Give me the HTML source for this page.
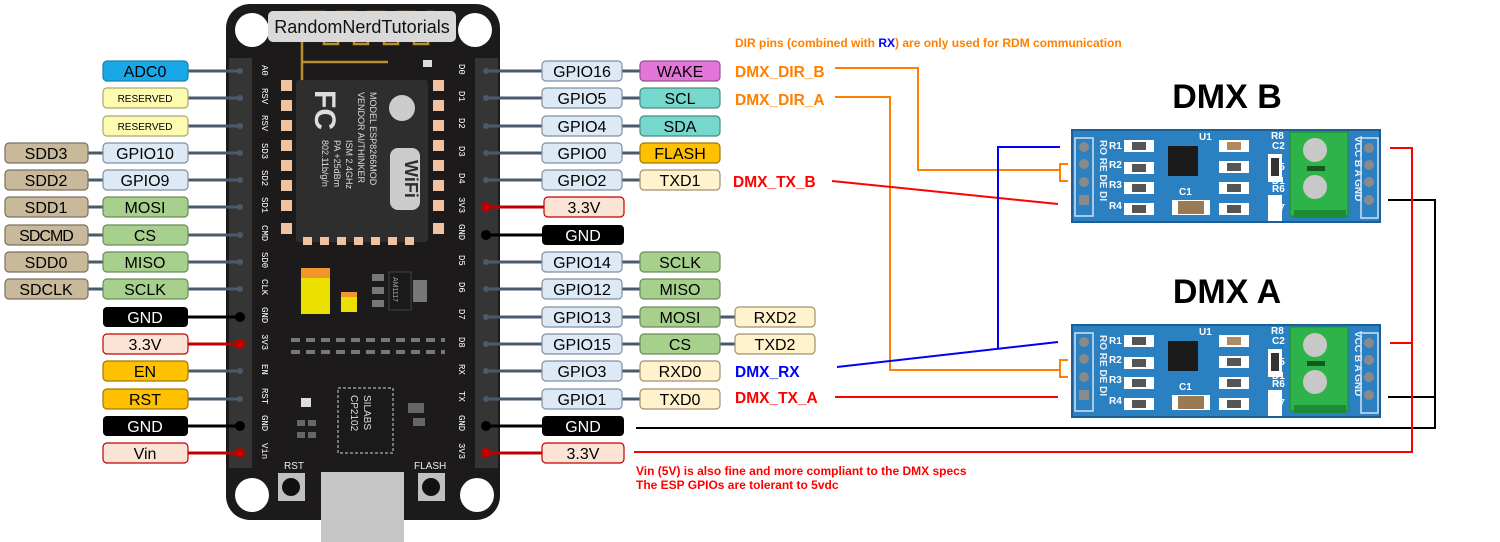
<!DOCTYPE html>
<html><head><meta charset="utf-8"><style>
html,body{margin:0;padding:0;background:#fff;}
svg{display:block;font-family:"Liberation Sans",sans-serif;}
.l text{font-size:16px;text-anchor:middle;}
</style></head><body>
<svg width="1500" height="542" viewBox="0 0 1500 542" xmlns="http://www.w3.org/2000/svg">
<defs>
<g id="mod">
 <rect x="0" y="0" width="308" height="92" fill="#2b80c2" stroke="#1c5f96" stroke-width="2"/>
 <rect x="3" y="8" width="18" height="78" fill="none" stroke="#cfe3f5" stroke-width="1.5"/>
 <circle cx="12" cy="17" r="5" fill="#8a8a8a"/><circle cx="12" cy="34" r="5" fill="#8a8a8a"/>
 <circle cx="12" cy="52" r="5" fill="#8a8a8a"/><rect x="7" y="65" width="10" height="10" fill="#8a8a8a"/>
 <text x="28" y="10" transform="rotate(90 28 10)" font-size="10" font-weight="bold" fill="#e8f0f8">RO RE DE DI</text>
 <g fill="#fff" font-size="10" font-weight="bold">
  <text x="37" y="19">R1</text><text x="37" y="38">R2</text><text x="37" y="58">R3</text><text x="37" y="79">R4</text>
  <text x="200" y="19">C2</text><text x="200" y="40">R5</text><text x="200" y="62">R6</text><text x="200" y="81">R7</text>
  <text x="127" y="10">U1</text><text x="107" y="65">C1</text><text x="199" y="9">R8</text><text x="200" y="54">D1</text>
 </g>
 <g fill="#fff"><rect x="52" y="10" width="30" height="12"/><rect x="52" y="32" width="30" height="12"/><rect x="52" y="52" width="30" height="12"/><rect x="52" y="73" width="30" height="12"/>
 <rect x="147" y="10" width="30" height="12"/><rect x="147" y="31" width="30" height="12"/><rect x="147" y="52" width="30" height="12"/><rect x="147" y="73" width="30" height="12"/></g>
 <g fill="#555"><rect x="60" y="12" width="14" height="8"/><rect x="60" y="34" width="14" height="8"/><rect x="60" y="54" width="14" height="8"/><rect x="60" y="75" width="14" height="8"/>
 <rect x="155" y="12" width="14" height="8" fill="#b08a60"/><rect x="155" y="33" width="14" height="8"/><rect x="155" y="54" width="14" height="8"/><rect x="155" y="75" width="14" height="8"/></g>
 <rect x="96" y="16" width="30" height="30" fill="#1a1a1a"/>
 <rect x="100" y="70" width="38" height="15" fill="#fff"/><rect x="106" y="71" width="26" height="13" fill="#9a7a55"/>
 <rect x="196" y="24" width="14" height="28" fill="#fff"/><rect x="199" y="28" width="8" height="18" fill="#333"/>
 <rect x="196" y="65" width="14" height="26" fill="#fff"/>
 <rect x="218" y="2" width="58" height="84" fill="#2eb34a" stroke="#1d8a35"/>
 <circle cx="243" cy="20" r="12" fill="#c8c8c8"/><circle cx="243" cy="57" r="12" fill="#c8c8c8"/>
 <rect x="235" y="36" width="18" height="5" fill="#14571f"/>
 <rect x="222" y="80" width="52" height="8" fill="#1d8a35"/>
 <text x="283" y="6" transform="rotate(90 283 6)" font-size="10" font-weight="bold" fill="#e8f0f8">VCC B A GND</text>
 <rect x="289" y="8" width="17" height="80" fill="none" stroke="#cfe3f5" stroke-width="1.5"/>
 <circle cx="297" cy="18" r="5" fill="#8a8a8a"/><circle cx="297" cy="35" r="5" fill="#8a8a8a"/><circle cx="297" cy="52" r="5" fill="#8a8a8a"/><circle cx="297" cy="70" r="5" fill="#8a8a8a"/>
</g>
</defs>

<!-- board -->
<rect x="226" y="4" width="274" height="516" rx="24" fill="#1c1a1a"/>
<circle cx="252" cy="30" r="17" fill="#fff"/><circle cx="475" cy="30" r="17" fill="#fff"/>
<circle cx="252" cy="495" r="17" fill="#fff"/><circle cx="477" cy="495" r="17" fill="#fff"/>
<path d="M302 80 V12 h22 v32 h14 v-32 h16 v32 h14 v-32 h16 v32 h14 v-32 h16 v32 h14 v-32 h6 M302 62 H388" fill="none" stroke="#b8902e" stroke-width="2.5"/>
<rect x="268" y="11" width="188" height="31" rx="5" fill="#d9d9d9"/>
<text x="362" y="33" font-size="18" text-anchor="middle" fill="#111">RandomNerdTutorials</text>
<rect x="423" y="60" width="9" height="7" fill="#ddd"/>
<rect x="229" y="58" width="23" height="410" fill="#353535"/>
<rect x="475" y="58" width="23" height="410" fill="#353535"/>
<rect x="296" y="80" width="132" height="162" rx="3" fill="#2e2e2e"/>
<g fill="#f0c2a0">
 <rect x="281" y="80" width="11" height="11"/><rect x="281" y="100" width="11" height="11"/><rect x="281" y="120" width="11" height="11"/><rect x="281" y="140" width="11" height="11"/><rect x="281" y="160" width="11" height="11"/><rect x="281" y="180" width="11" height="11"/><rect x="281" y="200" width="11" height="11"/><rect x="281" y="223" width="11" height="11"/>
 <rect x="433" y="80" width="11" height="11"/><rect x="433" y="100" width="11" height="11"/><rect x="433" y="120" width="11" height="11"/><rect x="433" y="140" width="11" height="11"/><rect x="433" y="160" width="11" height="11"/><rect x="433" y="180" width="11" height="11"/><rect x="433" y="200" width="11" height="11"/><rect x="433" y="223" width="11" height="11"/>
 <rect x="303" y="237" width="9" height="8"/><rect x="320" y="237" width="9" height="8"/><rect x="337" y="237" width="9" height="8"/><rect x="354" y="237" width="9" height="8"/><rect x="371" y="237" width="9" height="8"/><rect x="388" y="237" width="9" height="8"/><rect x="405" y="237" width="9" height="8"/>
</g>
<text x="310" y="125" font-size="30" font-weight="bold" fill="#ddd" transform="rotate(90 330 110)">FC</text>
<circle cx="402" cy="108" r="13" fill="#ccc"/>
<rect x="390" y="148" width="30" height="62" rx="8" fill="#ccc"/>
<text x="405" y="160" transform="rotate(90 405 160)" font-size="18" font-weight="bold" fill="#2e2e2e">WiFi</text>
<g fill="#ddd" font-size="9">
<text x="370" y="92" transform="rotate(90 370 92)">MODEL   ESP8266MOD</text>
<text x="358" y="92" transform="rotate(90 358 92)">VENDOR  AI/THINKER</text>
<text x="346" y="140" transform="rotate(90 346 140)">ISM 2.4GHz</text>
<text x="334" y="140" transform="rotate(90 334 140)">PA +25dBm</text>
<text x="322" y="140" transform="rotate(90 322 140)">802.11b/g/n</text>
</g>
<rect x="301" y="268" width="29" height="46" fill="#ece000"/><rect x="301" y="268" width="29" height="10" fill="#f0962a"/>
<rect x="341" y="292" width="16" height="20" fill="#ece000"/><rect x="341" y="292" width="16" height="5" fill="#f0962a"/>
<rect x="389" y="272" width="22" height="38" fill="#1a1a1a" stroke="#444"/>
<text x="393" y="277" transform="rotate(90 393 277)" font-size="7" fill="#aaa">AM1117</text>
<g fill="#777"><rect x="372" y="274" width="12" height="7"/><rect x="372" y="287" width="12" height="7"/><rect x="372" y="300" width="12" height="7"/><rect x="413" y="280" width="14" height="22"/></g>
<path d="M291 340 H445 M291 352 H445" stroke="#777" stroke-width="4" stroke-dasharray="9,6"/>
<rect x="338" y="388" width="55" height="65" fill="#1a1a1a" stroke="#777" stroke-width="2" stroke-dasharray="3,2"/>
<text x="364" y="395" transform="rotate(90 364 395)" font-size="10" fill="#ddd">SILABS</text>
<text x="351" y="395" transform="rotate(90 351 395)" font-size="10" fill="#ddd">CP2102</text>
<rect x="301" y="398" width="10" height="9" fill="#ddd"/>
<g fill="#666"><rect x="297" y="420" width="8" height="6"/><rect x="308" y="420" width="8" height="6"/><rect x="297" y="432" width="8" height="6"/><rect x="308" y="432" width="8" height="6"/><rect x="408" y="403" width="16" height="10"/><rect x="413" y="418" width="12" height="8"/></g>
<text x="284" y="469" font-size="10" fill="#eee">RST</text><text x="414" y="469" font-size="10" fill="#eee">FLASH</text>
<rect x="278" y="473" width="27" height="28" fill="#c0c0c0"/><circle cx="291" cy="487" r="9" fill="#111"/>
<rect x="418" y="473" width="27" height="28" fill="#c0c0c0"/><circle cx="431" cy="487" r="9" fill="#111"/>
<rect x="321" y="472" width="83" height="70" fill="#c6c6c6"/>
<g fill="#fff" font-size="9" font-family="Liberation Mono,monospace">
<text x="262" y="65" transform="rotate(90 262 65)">A0</text><text x="262" y="88" transform="rotate(90 262 88)">RSV</text><text x="262" y="115" transform="rotate(90 262 115)">RSV</text><text x="262" y="143" transform="rotate(90 262 143)">SD3</text><text x="262" y="170" transform="rotate(90 262 170)">SD2</text><text x="262" y="197" transform="rotate(90 262 197)">SD1</text><text x="262" y="225" transform="rotate(90 262 225)">CMD</text><text x="262" y="252" transform="rotate(90 262 252)">SD0</text><text x="262" y="279" transform="rotate(90 262 279)">CLK</text><text x="262" y="307" transform="rotate(90 262 307)">GND</text><text x="262" y="334" transform="rotate(90 262 334)">3V3</text><text x="262" y="364" transform="rotate(90 262 364)">EN</text><text x="262" y="388" transform="rotate(90 262 388)">RST</text><text x="262" y="415" transform="rotate(90 262 415)">GND</text><text x="262" y="443" transform="rotate(90 262 443)">Vin</text>
<text x="459" y="64" transform="rotate(90 459 64)">D0</text><text x="459" y="91" transform="rotate(90 459 91)">D1</text><text x="459" y="118" transform="rotate(90 459 118)">D2</text><text x="459" y="146" transform="rotate(90 459 146)">D3</text><text x="459" y="173" transform="rotate(90 459 173)">D4</text><text x="459" y="197" transform="rotate(90 459 197)">3V3</text><text x="459" y="224" transform="rotate(90 459 224)">GND</text><text x="459" y="255" transform="rotate(90 459 255)">D5</text><text x="459" y="282" transform="rotate(90 459 282)">D6</text><text x="459" y="309" transform="rotate(90 459 309)">D7</text><text x="459" y="337" transform="rotate(90 459 337)">D8</text><text x="459" y="364" transform="rotate(90 459 364)">RX</text><text x="459" y="391" transform="rotate(90 459 391)">TX</text><text x="459" y="415" transform="rotate(90 459 415)">GND</text><text x="459" y="443" transform="rotate(90 459 443)">3V3</text>
</g>

<!-- connector lines left -->
<g stroke="#4a5a6e" stroke-width="3">
<path d="M188 71H240M188 98H240M188 126H240M188 153H240M188 180H240M188 207H240M188 235H240M188 262H240M188 289H240M188 371H240M188 399H240"/>
<path d="M88 153H103M88 180H103M88 207H103M88 235H103M88 262H103M88 289H103"/>
</g>
<path d="M188 317H240M188 426H240" stroke="#000" stroke-width="3"/>
<path d="M188 344H240M188 453H240" stroke="#c00000" stroke-width="3"/>
<g fill="#4a5a6e"><circle cx="240" cy="71" r="3"/><circle cx="240" cy="98" r="3"/><circle cx="240" cy="126" r="3"/><circle cx="240" cy="153" r="3"/><circle cx="240" cy="180" r="3"/><circle cx="240" cy="207" r="3"/><circle cx="240" cy="235" r="3"/><circle cx="240" cy="262" r="3"/><circle cx="240" cy="289" r="3"/><circle cx="240" cy="371" r="3"/><circle cx="240" cy="399" r="3"/></g>
<circle cx="240" cy="317" r="5" fill="#000"/><circle cx="240" cy="426" r="5" fill="#000"/>
<circle cx="240" cy="344" r="5" fill="#c00000"/><circle cx="240" cy="453" r="5" fill="#c00000"/>
<!-- right -->
<g stroke="#4a5a6e" stroke-width="3">
<path d="M486 71H542M486 98H542M486 126H542M486 153H542M486 180H542M486 262H542M486 289H542M486 317H542M486 344H542M486 371H542M486 399H542"/>
<path d="M622 71H640M622 98H640M622 126H640M622 153H640M622 180H640M622 262H640M622 289H640M622 317H640M622 344H640M622 371H640M622 399H640M720 317H735M720 344H735"/>
</g>
<path d="M486 235H542" stroke="#000" stroke-width="3"/><path d="M486 426H542" stroke="#000" stroke-width="3"/>
<path d="M486 207H544M486 453H542" stroke="#c00000" stroke-width="3"/>
<circle cx="486" cy="235" r="5" fill="#000"/><circle cx="486" cy="426" r="5" fill="#000"/>
<circle cx="486" cy="207" r="5" fill="#c00000"/><circle cx="486" cy="453" r="5" fill="#c00000"/>
<g fill="#4a5a6e"><circle cx="486" cy="71" r="3"/><circle cx="486" cy="98" r="3"/><circle cx="486" cy="126" r="3"/><circle cx="486" cy="153" r="3"/><circle cx="486" cy="180" r="3"/><circle cx="486" cy="262" r="3"/><circle cx="486" cy="289" r="3"/><circle cx="486" cy="317" r="3"/><circle cx="486" cy="344" r="3"/><circle cx="486" cy="371" r="3"/><circle cx="486" cy="399" r="3"/></g>

<!-- left labels -->
<g class="l" stroke-width="1.2">
<rect x="103" y="61" width="85" height="20" rx="4" fill="#1aa7e8" stroke="#1a7fb0"/><text x="145" y="77">ADC0</text>
<rect x="103" y="88" width="85" height="20" rx="4" fill="#fdfbb0" stroke="#a8a870"/><text x="145" y="102" style="font-size:10px">RESERVED</text>
<rect x="103" y="116" width="85" height="20" rx="4" fill="#fdfbb0" stroke="#a8a870"/><text x="145" y="130" style="font-size:10px">RESERVED</text>
<rect x="5" y="143" width="83" height="20" rx="4" fill="#c8b99b" stroke="#7a7060"/><text x="46" y="159">SDD3</text>
<rect x="103" y="143" width="85" height="20" rx="4" fill="#dde9f5" stroke="#8090a0"/><text x="145" y="159">GPIO10</text>
<rect x="5" y="170" width="83" height="20" rx="4" fill="#c8b99b" stroke="#7a7060"/><text x="46" y="186">SDD2</text>
<rect x="103" y="170" width="85" height="20" rx="4" fill="#dde9f5" stroke="#8090a0"/><text x="145" y="186">GPIO9</text>
<rect x="5" y="197" width="83" height="20" rx="4" fill="#c8b99b" stroke="#7a7060"/><text x="46" y="213">SDD1</text>
<rect x="103" y="197" width="85" height="20" rx="4" fill="#a8d08d" stroke="#6a8a5a"/><text x="145" y="213">MOSI</text>
<rect x="5" y="225" width="83" height="20" rx="4" fill="#c8b99b" stroke="#7a7060"/><text x="46" y="241" style="letter-spacing:-1px">SDCMD</text>
<rect x="103" y="225" width="85" height="20" rx="4" fill="#a8d08d" stroke="#6a8a5a"/><text x="145" y="241">CS</text>
<rect x="5" y="252" width="83" height="20" rx="4" fill="#c8b99b" stroke="#7a7060"/><text x="46" y="268">SDD0</text>
<rect x="103" y="252" width="85" height="20" rx="4" fill="#a8d08d" stroke="#6a8a5a"/><text x="145" y="268">MISO</text>
<rect x="5" y="279" width="83" height="20" rx="4" fill="#c8b99b" stroke="#7a7060"/><text x="46" y="295">SDCLK</text>
<rect x="103" y="279" width="85" height="20" rx="4" fill="#a8d08d" stroke="#6a8a5a"/><text x="145" y="295">SCLK</text>
<rect x="103" y="307" width="85" height="20" rx="4" fill="#000"/><text x="145" y="323" fill="#fff">GND</text>
<rect x="103" y="334" width="85" height="20" rx="4" fill="#fbe4d5" stroke="#c00000"/><text x="145" y="350">3.3V</text>
<rect x="103" y="361" width="85" height="20" rx="4" fill="#ffc000" stroke="#a07a00"/><text x="145" y="377">EN</text>
<rect x="103" y="389" width="85" height="20" rx="4" fill="#ffc000" stroke="#a07a00"/><text x="145" y="405">RST</text>
<rect x="103" y="416" width="85" height="20" rx="4" fill="#000"/><text x="145" y="432" fill="#fff">GND</text>
<rect x="103" y="443" width="85" height="20" rx="4" fill="#fbe4d5" stroke="#c00000"/><text x="145" y="459">Vin</text>
</g>
<!-- right labels -->
<g class="l" stroke-width="1.2">
<rect x="542" y="61" width="80" height="20" rx="4" fill="#dde9f5" stroke="#8090a0"/><text x="582" y="77">GPIO16</text>
<rect x="640" y="61" width="80" height="20" rx="4" fill="#e377d9" stroke="#905090"/><text x="680" y="77">WAKE</text>
<rect x="542" y="88" width="80" height="20" rx="4" fill="#dde9f5" stroke="#8090a0"/><text x="582" y="104">GPIO5</text>
<rect x="640" y="88" width="80" height="20" rx="4" fill="#76d7cc" stroke="#4a8a84"/><text x="680" y="104">SCL</text>
<rect x="542" y="116" width="80" height="20" rx="4" fill="#dde9f5" stroke="#8090a0"/><text x="582" y="132">GPIO4</text>
<rect x="640" y="116" width="80" height="20" rx="4" fill="#76d7cc" stroke="#4a8a84"/><text x="680" y="132">SDA</text>
<rect x="542" y="143" width="80" height="20" rx="4" fill="#dde9f5" stroke="#8090a0"/><text x="582" y="159">GPIO0</text>
<rect x="640" y="143" width="80" height="20" rx="4" fill="#ffc000" stroke="#a07a00"/><text x="680" y="159">FLASH</text>
<rect x="542" y="170" width="80" height="20" rx="4" fill="#dde9f5" stroke="#8090a0"/><text x="582" y="186">GPIO2</text>
<rect x="640" y="170" width="80" height="20" rx="4" fill="#fff2cc" stroke="#a09070"/><text x="680" y="186">TXD1</text>
<rect x="544" y="197" width="80" height="20" rx="4" fill="#fbe4d5" stroke="#c00000"/><text x="584" y="213">3.3V</text>
<rect x="542" y="225" width="82" height="20" rx="4" fill="#000"/><text x="583" y="241" fill="#fff">GND</text>
<rect x="542" y="252" width="80" height="20" rx="4" fill="#dde9f5" stroke="#8090a0"/><text x="582" y="268">GPIO14</text>
<rect x="640" y="252" width="80" height="20" rx="4" fill="#a8d08d" stroke="#6a8a5a"/><text x="680" y="268">SCLK</text>
<rect x="542" y="279" width="80" height="20" rx="4" fill="#dde9f5" stroke="#8090a0"/><text x="582" y="295">GPIO12</text>
<rect x="640" y="279" width="80" height="20" rx="4" fill="#a8d08d" stroke="#6a8a5a"/><text x="680" y="295">MISO</text>
<rect x="542" y="307" width="80" height="20" rx="4" fill="#dde9f5" stroke="#8090a0"/><text x="582" y="323">GPIO13</text>
<rect x="640" y="307" width="80" height="20" rx="4" fill="#a8d08d" stroke="#6a8a5a"/><text x="680" y="323">MOSI</text>
<rect x="735" y="307" width="80" height="20" rx="4" fill="#fff2cc" stroke="#a09070"/><text x="775" y="323">RXD2</text>
<rect x="542" y="334" width="80" height="20" rx="4" fill="#dde9f5" stroke="#8090a0"/><text x="582" y="350">GPIO15</text>
<rect x="640" y="334" width="80" height="20" rx="4" fill="#a8d08d" stroke="#6a8a5a"/><text x="680" y="350">CS</text>
<rect x="735" y="334" width="80" height="20" rx="4" fill="#fff2cc" stroke="#a09070"/><text x="775" y="350">TXD2</text>
<rect x="542" y="361" width="80" height="20" rx="4" fill="#dde9f5" stroke="#8090a0"/><text x="582" y="377">GPIO3</text>
<rect x="640" y="361" width="80" height="20" rx="4" fill="#fff2cc" stroke="#a09070"/><text x="680" y="377">RXD0</text>
<rect x="542" y="389" width="80" height="20" rx="4" fill="#dde9f5" stroke="#8090a0"/><text x="582" y="405">GPIO1</text>
<rect x="640" y="389" width="80" height="20" rx="4" fill="#fff2cc" stroke="#a09070"/><text x="680" y="405">TXD0</text>
<rect x="542" y="416" width="82" height="20" rx="4" fill="#000"/><text x="583" y="432" fill="#fff">GND</text>
<rect x="542" y="443" width="82" height="20" rx="4" fill="#fbe4d5" stroke="#c00000"/><text x="583" y="459">3.3V</text>
</g>

<!-- signal labels -->
<g font-size="15.5" font-weight="bold">
<text x="735" y="77" fill="#ff8000">DMX_DIR_B</text>
<text x="735" y="105" fill="#ff8000">DMX_DIR_A</text>
<text x="733" y="187" fill="#ff0000">DMX_TX_B</text>
<text x="735" y="377" fill="#0000ff">DMX_RX</text>
<text x="735" y="403" fill="#ff0000">DMX_TX_A</text>
</g>
<text x="735" y="47" font-size="12" font-weight="bold" fill="#ff8000">DIR pins (combined with <tspan fill="#0000ff">RX</tspan>) are only used for RDM communication</text>
<text x="636" y="475" font-size="12" font-weight="bold" fill="#ff0000">Vin (5V) is also fine and more compliant to the DMX specs</text>
<text x="636" y="489" font-size="12" font-weight="bold" fill="#ff0000">The ESP GPIOs are tolerant to 5vdc</text>

<!-- modules -->
<text x="1227" y="108" font-size="34" font-weight="bold" text-anchor="middle">DMX B</text>
<text x="1227" y="303" font-size="34" font-weight="bold" text-anchor="middle">DMX A</text>
<use href="#mod" x="1072" y="130"/>
<use href="#mod" x="1072" y="325"/>

<!-- wires -->
<g fill="none" stroke-width="2">
<path d="M835 68H918V170H1060" stroke="#ff8000"/>
<path d="M1068 164H1060V181H1068" stroke="#ff8000"/>
<path d="M835 97H890V370H1060" stroke="#ff8000"/>
<path d="M1068 360H1060V377H1068" stroke="#ff8000"/>
<path d="M832 181L1058 204" stroke="#ff0000"/>
<path d="M835 397H1058" stroke="#ff0000"/>
<path d="M837 367L1058 342" stroke="#0000ff"/>
<path d="M998 349V147H1060" stroke="#0000ff"/>
<path d="M636 428H1435V200H1388M1388 397H1435" stroke="#000"/>
<path d="M634 452H1412V148H1390M1390 343H1412" stroke="#ff0000"/>
</g>
</svg>
</body></html>
